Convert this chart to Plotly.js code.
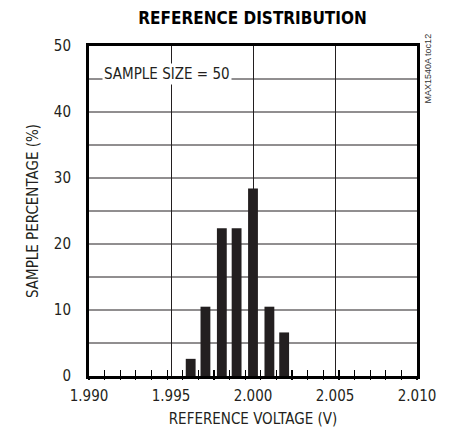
<!DOCTYPE html>
<html>
<head>
<meta charset="utf-8">
<script src="https://cdn.plot.ly/plotly-3.0.1.min.js"></script>
<style>html,body{margin:0;padding:0;background:#fff;}#chart{width:451px;height:432px;}</style>
</head>
<body>
<div id="chart"></div>
<script>
// Data
const binCenters = [1.9962, 1.9971, 1.9981, 1.9990, 2.0000, 2.0010, 2.0019];
const samplePercent = [2.6, 10.5, 22.4, 22.4, 28.4, 10.5, 6.6];
const xTickVals = [1.990, 1.995, 2.000, 2.005, 2.010];
const xTickText = ["1.990", "1.995", "2.000", "2.005", "2.010"];
const yTickVals = [0, 10, 20, 30, 40, 50];

const FONT = '"Liberation Sans Narrow", "DejaVu Sans Condensed", "Liberation Sans", Arial, sans-serif';
const INK = '#231f20';

const trace = {
  type: 'bar',
  x: binCenters,
  y: samplePercent,
  width: 0.0006,
  marker: {color: INK, line: {width: 0}},
  hoverinfo: 'skip'
};

const minorTickAxis = (ticks, len) => ({
  overlaying: 'x', anchor: 'y',
  range: [1.990, 2.010],
  tick0: 1.990, dtick: 0.02/21,
  ticks: ticks, ticklen: len, tickwidth: 1.2, tickcolor: '#000',
  showticklabels: false, showgrid: false, zeroline: false, showline: false,
  side: 'bottom'
});

const layout = {
  width: 451, height: 432,
  margin: {l: 89, r: 34, t: 46, b: 56},
  paper_bgcolor: '#fff', plot_bgcolor: '#fff',
  font: {family: FONT, color: INK, size: 15},
  showlegend: false,
  title: {
    text: '<b>REFERENCE DISTRIBUTION</b>',
    font: {family: FONT, size: 17, color: '#000'},
    x: 0.56, xanchor: 'center', y: 0.958, yanchor: 'middle'
  },
  xaxis: {
    range: [1.990, 2.010],
    tickvals: xTickVals, ticktext: xTickText,
    showgrid: true, gridcolor: INK, gridwidth: 1,
    showline: true, linecolor: '#000', linewidth: 3, mirror: true,
    ticks: '', zeroline: false,
    ticklabelstandoff: 4,
    tickfont: {size: 15},
    title: {text: 'REFERENCE VOLTAGE (V)', font: {size: 15}, standoff: 10},
    fixedrange: true
  },
  xaxis2: minorTickAxis('inside', 6),
  xaxis3: minorTickAxis('outside', 3),
  yaxis: {
    range: [0, 50],
    tickvals: yTickVals,
    showgrid: false,
    showline: true, linecolor: '#000', linewidth: 3, mirror: true,
    ticks: '', zeroline: false,
    ticklabelstandoff: 12,
    tickfont: {size: 15},
    title: {text: 'SAMPLE PERCENTAGE (%)', font: {size: 15}, standoff: 12},
    fixedrange: true
  },
  shapes: [5, 10, 15, 20, 25, 30, 35, 40, 45].map(v => ({
    type: 'line', xref: 'paper', yref: 'y', x0: 0, x1: 1, y0: v, y1: v,
    line: {color: INK, width: 1}, layer: 'below'
  })),
  annotations: [
    {
      text: 'SAMPLE SIZE = 50', xref: 'x', yref: 'y', x: 1.9908, y: 45,
      xanchor: 'left', yanchor: 'bottom', showarrow: false,
      font: {size: 15, color: INK}, bgcolor: '#fff', borderpad: 1, yshift: -6
    },
    {
      text: 'MAX1540A toc12', xref: 'paper', yref: 'paper', x: 1.013, y: 1.045,
      xanchor: 'left', yanchor: 'top', textangle: -90, showarrow: false,
      font: {size: 9, color: '#333', family: '"Liberation Sans", Arial, sans-serif'}
    }
  ]
};

const dummy2 = {type: 'scatter', x: [1.990], y: [0], xaxis: 'x2', yaxis: 'y', mode: 'markers', marker: {opacity: 0}, hoverinfo: 'skip'};
const dummy3 = {type: 'scatter', x: [1.990], y: [0], xaxis: 'x3', yaxis: 'y', mode: 'markers', marker: {opacity: 0}, hoverinfo: 'skip'};

Plotly.newPlot('chart', [trace, dummy2, dummy3], layout, {staticPlot: true, displayModeBar: false});
</script>
</body>
</html>
